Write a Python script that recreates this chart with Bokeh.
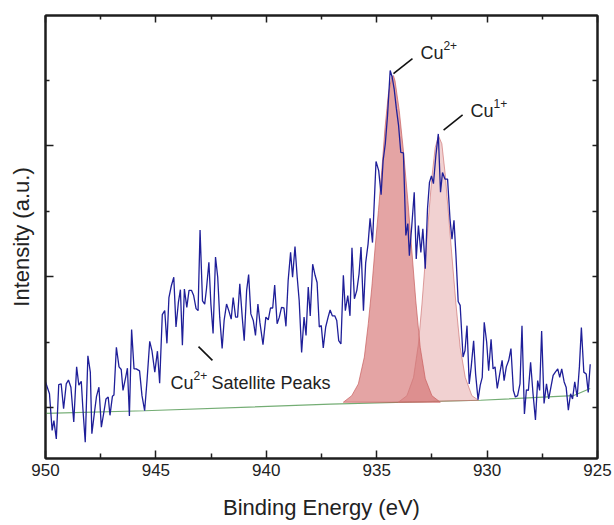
from bokeh.plotting import figure
from bokeh.models import Range1d, LinearAxis, FixedTicker, Label, CustomLabelingPolicy
from bokeh.embed import file_html
from bokeh.resources import INLINE

# ---------------- data ----------------
be = [950.00, 949.82, 949.70, 949.62, 949.51, 949.40, 949.29, 949.18, 949.06, 948.96,
      948.85, 948.72, 948.59, 948.49, 948.38, 948.31, 948.20, 948.08, 947.97, 947.90,
      947.78, 947.69, 947.58, 947.47, 947.37, 947.26, 947.16, 947.08, 946.97, 946.90,
      946.79, 946.67, 946.57, 946.49, 946.37, 946.29, 946.20, 946.10, 945.99, 945.89,
      945.74, 945.63, 945.51, 945.40, 945.28, 945.18, 945.05, 944.93, 944.83, 944.71,
      944.60, 944.50, 944.41, 944.30, 944.19, 944.09, 943.98, 943.89, 943.80, 943.71,
      943.60, 943.50, 943.39, 943.29, 943.18, 943.09, 943.00, 942.89, 942.79, 942.71,
      942.60, 942.51, 942.41, 942.30, 942.20, 942.11, 942.00, 941.91, 941.80, 941.70,
      941.59, 941.50, 941.39, 941.30, 941.20, 941.09, 941.00, 940.89, 940.80, 940.70,
      940.59, 940.49, 940.38, 940.29, 940.15, 940.02, 939.91, 939.81, 939.71, 939.62,
      939.51, 939.41, 939.31, 939.20, 939.11, 939.01, 938.90, 938.81, 938.70, 938.60,
      938.51, 938.40, 938.29, 938.20, 938.10, 938.01, 937.90, 937.79, 937.70, 937.60,
      937.51, 937.42, 937.31, 937.20, 937.11, 937.01, 936.90, 936.81, 936.72, 936.62,
      936.51, 936.42, 936.31, 936.21, 936.12, 936.01, 935.90, 935.80, 935.71, 935.60,
      935.50, 935.39, 935.30, 935.19, 935.03, 934.91, 934.80, 934.71, 934.61, 934.51,
      934.39, 934.30, 934.21, 934.11, 934.01, 933.91, 933.79, 933.68, 933.59, 933.52,
      933.41, 933.30, 933.21, 933.11, 933.00, 932.91, 932.80, 932.70, 932.61, 932.52,
      932.43, 932.32, 932.21, 932.11, 932.02, 931.91, 931.79, 931.68, 931.59, 931.50,
      931.41, 931.31, 931.22, 931.09, 931.00, 930.91, 930.81, 930.72, 930.61, 930.52,
      930.41, 930.31, 930.22, 930.13, 930.02, 929.93, 929.82, 929.73, 929.64, 929.54,
      929.43, 929.32, 929.23, 929.13, 929.02, 928.92, 928.81, 928.72, 928.62, 928.51,
      928.42, 928.31, 928.22, 928.13, 928.03, 927.92, 927.81, 927.71, 927.62, 927.53,
      927.42, 927.31, 927.21, 927.12, 927.01, 926.91, 926.80, 926.71, 926.62, 926.51,
      926.42, 926.32, 926.22, 926.13, 926.03, 925.92, 925.82, 925.73, 925.62, 925.51,
      925.42, 925.33]

counts = [39, 21, -35, -20, -48, 35, 36, -2, 36, 42,
          31, -22, 62, 34, 40, 0, -53, 79, 54, -40,
          -7, 17, 31, -30, -10, 13, 16, -12, 17, 19,
          92, 62, 58, 26, 46, 60, -13, 119, 59, 59,
          56, 18, -5, 42, 101, 87, 54, 86, 37, 142,
          148, 98, 168, 186, 199, 123, 161, 180, 95, 181,
          153, 179, 179, 171, 151, 148, 271, 163, 158, 181,
          222, 158, 113, 230, 199, 138, 90, 133, 158, 148,
          135, 168, 138, 138, 189, 138, 102, 179, 203, 143,
          133, 110, 158, 130, 96, 138, 134, 152, 152, 187,
          128, 138, 153, 152, 124, 194, 237, 199, 246, 199,
          163, 84, 138, 110, 184, 140, 219, 202, 191, 123,
          125, 91, 123, 138, 149, 140, 140, 133, 102, 97,
          202, 148, 171, 140, 244, 166, 179, 204, 245, 148,
          221, 250, 289, 252, 376, 362, 325, 377, 403, 446,
          515, 505, 487, 457, 431, 390, 389, 263, 281, 232,
          278, 329, 227, 278, 237, 273, 212, 303, 344, 354,
          342, 385, 418, 329, 359, 349, 349, 288, 257, 286,
          232, 162, 156, 77, 87, 125, 36, 62, 102, 51,
          12, 34, 46, 130, 100, 56, 104, 59, 62, 29,
          51, 72, 41, 62, 72, 90, 26, 16, 18, 36,
          125, -10, 27, 26, 69, 21, -19, 41, 26, 117,
          6, 36, 13, 29, 49, 54, 59, 46, 59, 39,
          31, -4, 21, 13, 39, 16, 62, 122, 54, 51,
          23, 66]

bg_be = [950.0, 945.5, 937.1, 930.3, 926.1, 925.33]
bg_counts = [-9, -5, 5, 11, 18, 29]

cu2_be = [936.51, 936.13, 935.83, 935.56, 935.38, 935.22, 935.07, 934.92, 934.77, 934.62,
          934.47, 934.31, 934.24, 934.17, 933.98, 933.79, 933.59, 933.41, 933.23, 933.03,
          932.80, 932.50, 932.12]
cu2_counts = [8, 18, 36, 77, 128, 184, 245, 301, 362, 428,
              479, 506, 507, 499, 454, 392, 316, 240, 163, 92,
              44, 18, 8]

cu1_be = [934.02, 933.63, 933.33, 933.11, 932.95, 932.80, 932.65, 932.50, 932.35, 932.20,
          932.05, 931.90, 931.75, 931.59, 931.41, 931.22, 930.99, 930.69, 930.39]
cu1_counts = [8, 18, 46, 97, 158, 224, 291, 352, 397, 415,
              403, 357, 296, 230, 158, 92, 46, 18, 11]

x_major = [950, 945, 940, 935, 930, 925]
x_minor = [947.5, 942.5, 937.5, 932.5, 927.5]
y_major = [0, 200, 400]
y_minor = [100, 300, 500]

# annotation anchors (data coordinates)
lab_cu2 = (933.02, 541)
lab_cu1 = (930.75, 453)
lab_sat = (944.34, 37)
ptr_x0 = [934.24, 931.97, 943.07]
ptr_y0 = [510, 424, 93]
ptr_x1 = [933.38, 931.11, 942.44]
ptr_y1 = [533, 447, 72]

FONT = "Liberation Sans"
TXT = "#222222"
AX = "#1e1e1e"

p = figure(frame_width=552, frame_height=443,
           x_range=Range1d(950, 925), y_range=Range1d(-78, 599),
           output_backend="svg", toolbar_location=None,
           min_border_left=45, min_border_right=15, min_border_top=15, min_border_bottom=60,
           background_fill_color="white", border_fill_color="white")
p.xgrid.visible = False
p.ygrid.visible = False
p.outline_line_color = AX
p.outline_line_width = 2


def style_axis(ax, labels):
    ax.axis_line_color = AX
    ax.axis_line_width = 2
    ax.major_tick_line_color = AX
    ax.minor_tick_line_color = AX
    ax.major_tick_line_width = 1.5
    ax.minor_tick_line_width = 1.5
    ax.major_tick_out = 0
    ax.minor_tick_out = 0
    if not labels:
        ax.major_label_policy = CustomLabelingPolicy(code="return")
        ax.major_label_text_font_size = "0px"
        ax.major_label_standoff = 0


xb = p.xaxis[0]
xb.ticker = FixedTicker(ticks=x_major, minor_ticks=x_minor)
style_axis(xb, True)
xb.major_tick_in = 8
xb.minor_tick_in = 5
xb.major_label_text_font = FONT
xb.major_label_text_font_size = "17px"
xb.major_label_text_color = TXT
xb.major_label_standoff = 5
xb.axis_label = "Binding Energy (eV)"
xb.axis_label_text_font = FONT
xb.axis_label_text_font_size = "22px"
xb.axis_label_text_font_style = "normal"
xb.axis_label_text_color = TXT
xb.axis_label_standoff = 16

yl = p.yaxis[0]
yl.ticker = FixedTicker(ticks=y_major, minor_ticks=y_minor)
style_axis(yl, False)
yl.major_tick_in = 8
yl.minor_tick_in = 4
yl.axis_label = "Intensity (a.u.)"
yl.axis_label_text_font = FONT
yl.axis_label_text_font_size = "22px"
yl.axis_label_text_font_style = "normal"
yl.axis_label_text_color = TXT
yl.axis_label_standoff = 12

xt = LinearAxis(ticker=FixedTicker(ticks=x_major, minor_ticks=x_minor))
style_axis(xt, False)
xt.major_tick_in = 7
xt.minor_tick_in = 4
p.add_layout(xt, "above")

yr = LinearAxis(ticker=FixedTicker(ticks=y_major + y_minor, minor_ticks=[]))
style_axis(yr, False)
yr.major_tick_in = 5
p.add_layout(yr, "right")

# background
p.line(bg_be, bg_counts, line_color="#74ad74", line_width=1.2)

# fitted components
p.patch(cu2_be, cu2_counts, fill_color="#cd5a5a", fill_alpha=0.55,
        line_color="#c75e5e", line_width=1, line_alpha=0.7)
p.patch(cu1_be, cu1_counts, fill_color="#cd5a5a", fill_alpha=0.28,
        line_color="#d07777", line_width=1, line_alpha=0.7)

# measured spectrum
p.line(be, counts, line_color="#1f1f99", line_width=1.3)

# pointers
p.segment(x0=ptr_x0, y0=ptr_y0, x1=ptr_x1, y1=ptr_y1, line_color="#111111", line_width=1.6)


def chem_label(pos, sup, tail=None):
    x, y = pos
    p.add_layout(Label(x=x, y=y, text="Cu", text_font=FONT, text_font_size="18px",
                       text_color=TXT, text_baseline="alphabetic", text_align="left"))
    p.add_layout(Label(x=x, y=y, x_offset=23, y_offset=8, text=sup, text_font=FONT,
                       text_font_size="12px", text_color=TXT,
                       text_baseline="alphabetic", text_align="left"))
    if tail:
        p.add_layout(Label(x=x, y=y, x_offset=41, text=tail, text_font=FONT,
                           text_font_size="18px", text_color=TXT,
                           text_baseline="alphabetic", text_align="left"))


chem_label(lab_cu2, "2+")
chem_label(lab_cu1, "1+")
chem_label(lab_sat, "2+", "Satellite Peaks")

open("out.html", "w").write(file_html(p, INLINE))
